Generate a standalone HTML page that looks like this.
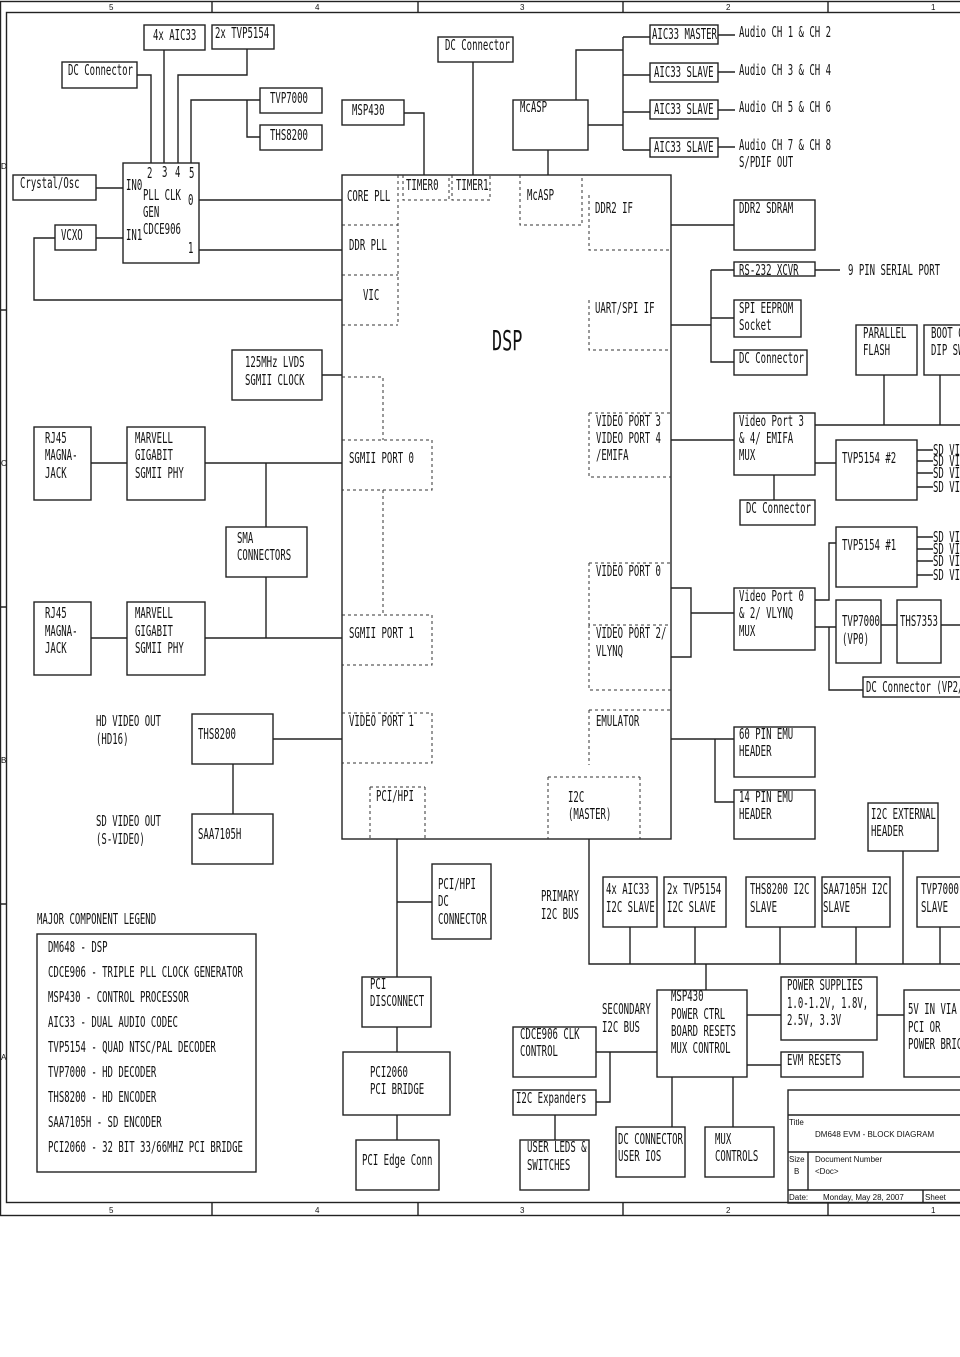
<!DOCTYPE html>
<html><head><meta charset="utf-8"><style>
html,body{margin:0;padding:0;background:#fff;}
svg{display:block}
text{font-family:"DejaVu Sans Mono","Liberation Mono",monospace;font-size:15px;fill:#111}
.s{font-family:"Liberation Sans",sans-serif;font-size:8px}
</style></head><body>
<svg width="960" height="1357" viewBox="0 0 960 1357" xmlns="http://www.w3.org/2000/svg">
<g fill="none" stroke="#222" stroke-width="1.4">
<rect x="0.5" y="1.5" width="970" height="1214"/>
<rect x="6.5" y="12.5" width="960" height="1190"/>
<path d="M212 1V12M418 1V12M623 1V12M828 1V12M212 1203V1215M418 1203V1215M623 1203V1215M828 1203V1215M0 310H6M0 607H6M0 904H6"/>
<rect x="144" y="25" width="61" height="25"/><rect x="212" y="25" width="62" height="24"/>
<rect x="62" y="62" width="75" height="26"/><rect x="260" y="88" width="62" height="25"/>
<rect x="260" y="125" width="62" height="25"/><rect x="342" y="100" width="62" height="25"/>
<rect x="13" y="175" width="83" height="25"/><rect x="123" y="163" width="76" height="100"/>
<rect x="55" y="225" width="41" height="25"/><rect x="438" y="37" width="75" height="25"/>
<rect x="513" y="100" width="75" height="50"/><rect x="342" y="175" width="329" height="664"/>
<rect x="232" y="350" width="90" height="50"/>
<rect x="34" y="427" width="57" height="73"/><rect x="127" y="427" width="78" height="73"/>
<rect x="226" y="527" width="81" height="50"/>
<rect x="34" y="602" width="57" height="73"/><rect x="127" y="602" width="78" height="73"/>
<rect x="192" y="714" width="81" height="50"/><rect x="192" y="814" width="81" height="50"/>
<rect x="37" y="934" width="219" height="238"/>
<rect x="650" y="25" width="68" height="19"/><rect x="650" y="63" width="68" height="19"/>
<rect x="650" y="100" width="68" height="19"/><rect x="650" y="138" width="68" height="19"/>
<rect x="734" y="200" width="81" height="50"/><rect x="734" y="262" width="81" height="14"/>
<rect x="734" y="300" width="67" height="37"/><rect x="734" y="350" width="73" height="25"/>
<rect x="856" y="325" width="61" height="50"/><rect x="924" y="325" width="50" height="50"/>
<rect x="734" y="413" width="81" height="62"/><rect x="836" y="440" width="81" height="60"/>
<rect x="740" y="500" width="75" height="25"/><rect x="836" y="527" width="81" height="60"/>
<rect x="734" y="588" width="81" height="62"/><rect x="836" y="600" width="45" height="63"/>
<rect x="897" y="600" width="44" height="63"/><rect x="863" y="677" width="110" height="20"/>
<rect x="734" y="727" width="81" height="50"/><rect x="734" y="790" width="81" height="49"/>
<rect x="868" y="803" width="70" height="48"/>
<rect x="432" y="864" width="59" height="75"/>
<rect x="603" y="877" width="54" height="50"/><rect x="664" y="877" width="62" height="50"/>
<rect x="746" y="877" width="69" height="50"/><rect x="822" y="877" width="68" height="50"/>
<rect x="917" y="877" width="60" height="50"/>
<rect x="362" y="977" width="69" height="50"/><rect x="343" y="1052" width="107" height="63"/>
<rect x="356" y="1140" width="83" height="50"/>
<rect x="657" y="990" width="90" height="87"/><rect x="513" y="1027" width="83" height="50"/>
<rect x="513" y="1090" width="83" height="25"/><rect x="520" y="1140" width="69" height="50"/>
<rect x="616" y="1127" width="69" height="50"/><rect x="705" y="1127" width="69" height="50"/>
<rect x="781" y="977" width="96" height="63"/><rect x="781" y="1052" width="82" height="25"/>
<rect x="904" y="990" width="70" height="87"/>
<rect x="788" y="1090" width="180" height="113"/>
<path d="M788 1115H968M788 1152H968M788 1190H968M808 1152V1190M923 1190V1203"/>
<path d="M137 75H151V163M164 50V163M247 49V75H178V163M260 100H191V163M247 100V137H260M404 113H424V175M473 62V175M548 150V175
M96 188H123M96 238H123M55 238H34V300H342M199 200H342M199 250H342M322 375H342
M91 463H127M205 463H342M266 463V527M266 577V638M91 638H127M205 638H342M273 739H342M233 764V814
M576 100V50H623M588 125H623M623 37V150M623 37H650M623 75H650M623 112H650M623 150H650
M718 35H735M718 72H735M718 110H735M718 147H735
M671 225H734M671 325H711M711 270V362H734M711 270H734M711 318H734M815 270H840
M815 425H960M884 425V375M940 425V375M671 440H734M774 475V500M815 463H836
M917 450H933M917 461H933M917 473H933M917 487H933M917 537H933M917 549H933M917 561H933M917 575H933
M671 588H691V657H671M691 613H734M815 600H829V543H836M815 627H829V690H863M815 627H836M881 625H897M941 625H960
M671 739H734M715 739V802H734
M589 839V964H960M630 927V964M695 927V964M780 927V964M856 927V964M940 927V964M903 851V964
M397 839V977M397 902H432M397 1027V1052M397 1115V1140
M706 964V990M747 1015H781M877 1015H904M747 1065H781M596 1052H657M610 1052V1102H596M555 1115V1140M672 1077V1127M733 1077V1127"/>
</g>
<g fill="none" stroke="#333" stroke-width="1" stroke-dasharray="3,3">
<path d="M342 225H398M342 275H398M342 325H398M398 175V325M403 175V200H449V175M452 175V200H490V175M520 175V225H582V175
M589 195V250H671M589 300V350H671M589 413H671M589 413V477H671M589 563H671M589 563V625H671M589 625V690H671M589 710H671M589 710V765
M342 377H383V440M342 440H432V490H342M383 490V615M342 615H432V665H342M342 713H432V763H342M370 787H425M370 787V839M425 787V839M548 777H640M548 777V839M640 777V839"/>
</g>
<g>
<text transform="matrix(.6 0 0 1 153 40)">4x AIC33</text>
<text transform="matrix(.6 0 0 1 215 38)">2x TVP5154</text>
<text transform="matrix(.6 0 0 1 68 75)">DC Connector</text>
<text transform="matrix(.6 0 0 1 270 103)">TVP7000</text>
<text transform="matrix(.6 0 0 1 270 140)">THS8200</text>
<text transform="matrix(.6 0 0 1 352 115)">MSP430</text>
<text transform="matrix(.6 0 0 1 20 188)">Crystal/Osc</text>
<text transform="matrix(.6 0 0 1 61 240)">VCXO</text>
<text transform="matrix(.6 0 0 1 147 178)">2</text>
<text transform="matrix(.6 0 0 1 162 177)">3</text>
<text transform="matrix(.6 0 0 1 175 177)">4</text>
<text transform="matrix(.6 0 0 1 189 178)">5</text>
<text transform="matrix(.6 0 0 1 126 190)">IN0</text>
<text transform="matrix(.6 0 0 1 143 200)">PLL CLK</text>
<text transform="matrix(.6 0 0 1 188 205)">0</text>
<text transform="matrix(.6 0 0 1 143 217)">GEN</text>
<text transform="matrix(.6 0 0 1 126 240)">IN1</text>
<text transform="matrix(.6 0 0 1 143 234)">CDCE906</text>
<text transform="matrix(.6 0 0 1 188 253)">1</text>
<text transform="matrix(.6 0 0 1 445 50)">DC Connector</text>
<text transform="matrix(.6 0 0 1 520 112)">McASP</text>
<text transform="matrix(.6 0 0 1 347 201)">CORE PLL</text>
<text transform="matrix(.6 0 0 1 349 250)">DDR PLL</text>
<text transform="matrix(.6 0 0 1 363 300)">VIC</text>
<text transform="matrix(.6 0 0 1 406 190)">TIMER0</text>
<text transform="matrix(.6 0 0 1 456 190)">TIMER1</text>
<text transform="matrix(.6 0 0 1 527 200)">McASP</text>
<text transform="matrix(.6 0 0 1 595 213)">DDR2 IF</text>
<text transform="matrix(.6 0 0 1 595 313)">UART/SPI IF</text>
<text transform="matrix(.6 0 0 1 492 350)" style="font-size:28px">DSP</text>
<text transform="matrix(.6 0 0 1 245 367)">125MHz LVDS</text>
<text transform="matrix(.6 0 0 1 245 385)">SGMII CLOCK</text>
<text transform="matrix(.6 0 0 1 45 443)">RJ45</text>
<text transform="matrix(.6 0 0 1 45 460)">MAGNA-</text>
<text transform="matrix(.6 0 0 1 45 478)">JACK</text>
<text transform="matrix(.6 0 0 1 135 443)">MARVELL</text>
<text transform="matrix(.6 0 0 1 135 460)">GIGABIT</text>
<text transform="matrix(.6 0 0 1 135 478)">SGMII PHY</text>
<text transform="matrix(.6 0 0 1 349 463)">SGMII PORT 0</text>
<text transform="matrix(.6 0 0 1 237 543)">SMA</text>
<text transform="matrix(.6 0 0 1 237 560)">CONNECTORS</text>
<text transform="matrix(.6 0 0 1 45 618)">RJ45</text>
<text transform="matrix(.6 0 0 1 45 636)">MAGNA-</text>
<text transform="matrix(.6 0 0 1 45 653)">JACK</text>
<text transform="matrix(.6 0 0 1 135 618)">MARVELL</text>
<text transform="matrix(.6 0 0 1 135 636)">GIGABIT</text>
<text transform="matrix(.6 0 0 1 135 653)">SGMII PHY</text>
<text transform="matrix(.6 0 0 1 349 638)">SGMII PORT 1</text>
<text transform="matrix(.6 0 0 1 96 726)">HD VIDEO OUT</text>
<text transform="matrix(.6 0 0 1 96 744)">(HD16)</text>
<text transform="matrix(.6 0 0 1 198 739)">THS8200</text>
<text transform="matrix(.6 0 0 1 349 726)">VIDEO PORT 1</text>
<text transform="matrix(.6 0 0 1 96 826)">SD VIDEO OUT</text>
<text transform="matrix(.6 0 0 1 96 844)">(S-VIDEO)</text>
<text transform="matrix(.6 0 0 1 198 839)">SAA7105H</text>
<text transform="matrix(.6 0 0 1 376 801)">PCI/HPI</text>
<text transform="matrix(.6 0 0 1 568 802)">I2C</text>
<text transform="matrix(.6 0 0 1 568 819)">(MASTER)</text>
<text transform="matrix(.6 0 0 1 596 426)">VIDEO PORT 3</text>
<text transform="matrix(.6 0 0 1 596 443)">VIDEO PORT 4</text>
<text transform="matrix(.6 0 0 1 596 460)">/EMIFA</text>
<text transform="matrix(.6 0 0 1 596 576)">VIDEO PORT 0</text>
<text transform="matrix(.6 0 0 1 596 638)">VIDEO PORT 2/</text>
<text transform="matrix(.6 0 0 1 596 656)">VLYNQ</text>
<text transform="matrix(.6 0 0 1 596 726)">EMULATOR</text>
<text transform="matrix(.6 0 0 1 652 39)">AIC33 MASTER</text>
<text transform="matrix(.6 0 0 1 654 77)">AIC33 SLAVE</text>
<text transform="matrix(.6 0 0 1 654 114)">AIC33 SLAVE</text>
<text transform="matrix(.6 0 0 1 654 152)">AIC33 SLAVE</text>
<text transform="matrix(.6 0 0 1 739 37)">Audio CH 1 &amp; CH 2</text>
<text transform="matrix(.6 0 0 1 739 75)">Audio CH 3 &amp; CH 4</text>
<text transform="matrix(.6 0 0 1 739 112)">Audio CH 5 &amp; CH 6</text>
<text transform="matrix(.6 0 0 1 739 150)">Audio CH 7 &amp; CH 8</text>
<text transform="matrix(.6 0 0 1 739 167)">S/PDIF OUT</text>
<text transform="matrix(.6 0 0 1 739 213)">DDR2 SDRAM</text>
<text transform="matrix(.6 0 0 1 739 275)">RS-232 XCVR</text>
<text transform="matrix(.6 0 0 1 848 275)">9 PIN SERIAL PORT</text>
<text transform="matrix(.6 0 0 1 739 313)">SPI EEPROM</text>
<text transform="matrix(.6 0 0 1 739 330)">Socket</text>
<text transform="matrix(.6 0 0 1 739 363)">DC Connector</text>
<text transform="matrix(.6 0 0 1 863 338)">PARALLEL</text>
<text transform="matrix(.6 0 0 1 863 355)">FLASH</text>
<text transform="matrix(.6 0 0 1 931 338)">BOOT C</text>
<text transform="matrix(.6 0 0 1 931 355)">DIP SW</text>
<text transform="matrix(.6 0 0 1 739 426)">Video Port 3</text>
<text transform="matrix(.6 0 0 1 739 443)">&amp; 4/ EMIFA</text>
<text transform="matrix(.6 0 0 1 739 460)">MUX</text>
<text transform="matrix(.6 0 0 1 842 463)">TVP5154 #2</text>
<text transform="matrix(.6 0 0 1 746 513)">DC Connector</text>
<text transform="matrix(.6 0 0 1 842 550)">TVP5154 #1</text>
<text transform="matrix(.6 0 0 1 933 455)">SD VI</text>
<text transform="matrix(.6 0 0 1 933 466)">SD VI</text>
<text transform="matrix(.6 0 0 1 933 478)">SD VI</text>
<text transform="matrix(.6 0 0 1 933 492)">SD VI</text>
<text transform="matrix(.6 0 0 1 933 542)">SD VI</text>
<text transform="matrix(.6 0 0 1 933 554)">SD VI</text>
<text transform="matrix(.6 0 0 1 933 566)">SD VI</text>
<text transform="matrix(.6 0 0 1 933 580)">SD VI</text>
<text transform="matrix(.6 0 0 1 739 601)">Video Port 0</text>
<text transform="matrix(.6 0 0 1 739 618)">&amp; 2/ VLYNQ</text>
<text transform="matrix(.6 0 0 1 739 636)">MUX</text>
<text transform="matrix(.6 0 0 1 842 626)">TVP7000</text>
<text transform="matrix(.6 0 0 1 842 644)">(VP0)</text>
<text transform="matrix(.6 0 0 1 900 626)">THS7353</text>
<text transform="matrix(.6 0 0 1 866 692)">DC Connector (VP2/</text>
<text transform="matrix(.6 0 0 1 739 739)">60 PIN EMU</text>
<text transform="matrix(.6 0 0 1 739 756)">HEADER</text>
<text transform="matrix(.6 0 0 1 739 802)">14 PIN EMU</text>
<text transform="matrix(.6 0 0 1 739 819)">HEADER</text>
<text transform="matrix(.6 0 0 1 871 819)">I2C EXTERNAL</text>
<text transform="matrix(.6 0 0 1 871 836)">HEADER</text>
<text transform="matrix(.6 0 0 1 438 889)">PCI/HPI</text>
<text transform="matrix(.6 0 0 1 438 906)">DC</text>
<text transform="matrix(.6 0 0 1 438 924)">CONNECTOR</text>
<text transform="matrix(.6 0 0 1 541 901)">PRIMARY</text>
<text transform="matrix(.6 0 0 1 541 919)">I2C BUS</text>
<text transform="matrix(.6 0 0 1 606 894)">4x AIC33</text>
<text transform="matrix(.6 0 0 1 606 912)">I2C SLAVE</text>
<text transform="matrix(.6 0 0 1 667 894)">2x TVP5154</text>
<text transform="matrix(.6 0 0 1 667 912)">I2C SLAVE</text>
<text transform="matrix(.6 0 0 1 750 894)">THS8200 I2C</text>
<text transform="matrix(.6 0 0 1 750 912)">SLAVE</text>
<text transform="matrix(.6 0 0 1 823 894)">SAA7105H I2C</text>
<text transform="matrix(.6 0 0 1 823 912)">SLAVE</text>
<text transform="matrix(.6 0 0 1 921 894)">TVP7000</text>
<text transform="matrix(.6 0 0 1 921 912)">SLAVE</text>
<text transform="matrix(.6 0 0 1 37 924)">MAJOR COMPONENT LEGEND</text>
<text transform="matrix(.6 0 0 1 48 952)">DM648 - DSP</text>
<text transform="matrix(.6 0 0 1 48 977)">CDCE906 - TRIPLE PLL CLOCK GENERATOR</text>
<text transform="matrix(.6 0 0 1 48 1002)">MSP430 - CONTROL PROCESSOR</text>
<text transform="matrix(.6 0 0 1 48 1027)">AIC33 - DUAL AUDIO CODEC</text>
<text transform="matrix(.6 0 0 1 48 1052)">TVP5154 - QUAD NTSC/PAL DECODER</text>
<text transform="matrix(.6 0 0 1 48 1077)">TVP7000 - HD DECODER</text>
<text transform="matrix(.6 0 0 1 48 1102)">THS8200 - HD ENCODER</text>
<text transform="matrix(.6 0 0 1 48 1127)">SAA7105H - SD ENCODER</text>
<text transform="matrix(.6 0 0 1 48 1152)">PCI2060 - 32 BIT 33/66MHZ PCI BRIDGE</text>
<text transform="matrix(.6 0 0 1 370 989)">PCI</text>
<text transform="matrix(.6 0 0 1 370 1006)">DISCONNECT</text>
<text transform="matrix(.6 0 0 1 370 1077)">PCI2060</text>
<text transform="matrix(.6 0 0 1 370 1094)">PCI BRIDGE</text>
<text transform="matrix(.6 0 0 1 362 1165)">PCI Edge Conn</text>
<text transform="matrix(.6 0 0 1 602 1014)">SECONDARY</text>
<text transform="matrix(.6 0 0 1 602 1032)">I2C BUS</text>
<text transform="matrix(.6 0 0 1 671 1001)">MSP430</text>
<text transform="matrix(.6 0 0 1 671 1019)">POWER CTRL</text>
<text transform="matrix(.6 0 0 1 671 1036)">BOARD RESETS</text>
<text transform="matrix(.6 0 0 1 671 1053)">MUX CONTROL</text>
<text transform="matrix(.6 0 0 1 520 1039)">CDCE906 CLK</text>
<text transform="matrix(.6 0 0 1 520 1056)">CONTROL</text>
<text transform="matrix(.6 0 0 1 516 1103)">I2C Expanders</text>
<text transform="matrix(.6 0 0 1 527 1152)">USER LEDS &amp;</text>
<text transform="matrix(.6 0 0 1 527 1170)">SWITCHES</text>
<text transform="matrix(.6 0 0 1 618 1144)">DC CONNECTOR</text>
<text transform="matrix(.6 0 0 1 618 1161)">USER IOS</text>
<text transform="matrix(.6 0 0 1 715 1144)">MUX</text>
<text transform="matrix(.6 0 0 1 715 1161)">CONTROLS</text>
<text transform="matrix(.6 0 0 1 787 990)">POWER SUPPLIES</text>
<text transform="matrix(.6 0 0 1 787 1008)">1.0-1.2V, 1.8V,</text>
<text transform="matrix(.6 0 0 1 787 1025)">2.5V, 3.3V</text>
<text transform="matrix(.6 0 0 1 787 1065)">EVM RESETS</text>
<text transform="matrix(.6 0 0 1 908 1014)">5V IN VIA</text>
<text transform="matrix(.6 0 0 1 908 1032)">PCI OR</text>
<text transform="matrix(.6 0 0 1 908 1049)">POWER BRIC</text>
<text class="s" x="789" y="1125">Title</text>
<text class="s" x="815" y="1137">DM648 EVM - BLOCK DIAGRAM</text>
<text class="s" x="789" y="1162">Size</text>
<text class="s" x="815" y="1162">Document Number</text>
<text class="s" x="794" y="1174">B</text>
<text class="s" x="815" y="1174">&lt;Doc&gt;</text>
<text class="s" x="789" y="1200">Date:</text>
<text class="s" x="823" y="1200">Monday, May 28, 2007</text>
<text class="s" x="925" y="1200">Sheet</text>
<text class="s" x="109" y="10">5</text><text class="s" x="315" y="10">4</text><text class="s" x="520" y="10">3</text><text class="s" x="726" y="10">2</text><text class="s" x="931" y="10">1</text>
<text class="s" x="109" y="1213">5</text><text class="s" x="315" y="1213">4</text><text class="s" x="520" y="1213">3</text><text class="s" x="726" y="1213">2</text><text class="s" x="931" y="1213">1</text>
<text class="s" x="1" y="169">D</text><text class="s" x="1" y="466">C</text><text class="s" x="1" y="763">B</text><text class="s" x="1" y="1060">A</text>
</g>
</svg>
</body></html>
